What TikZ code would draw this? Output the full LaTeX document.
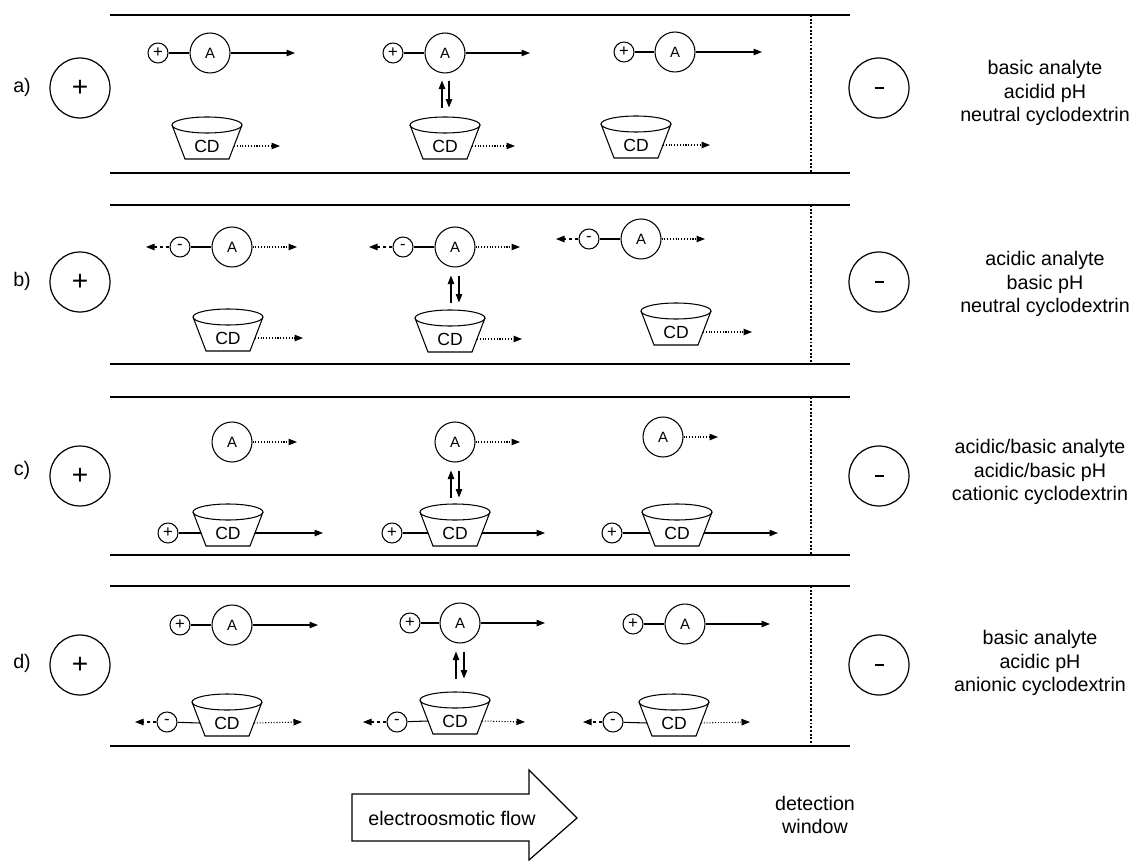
\documentclass[tikz,border=0pt]{standalone}
\usepackage{fontspec}
\setmainfont{Liberation Sans}
\usetikzlibrary{arrows.meta}

\tikzset{
  wall/.style={line width=1.3pt},
  window/.style={line width=1.1pt, densely dotted},
  electrode/.style={circle, draw, line width=0.7pt, minimum size=1.2cm, inner sep=0pt, font=\fontsize{16}{16}\selectfont},
  analyte/.style={circle, draw, line width=0.6pt, minimum size=0.8cm, inner sep=0pt, font=\fontsize{8.5}{8.5}\selectfont},
  charge/.style={circle, draw, line width=0.6pt, minimum size=0.4cm, inner sep=0pt, font=\fontsize{9.5}{9.5}\selectfont},
  bond/.style={line width=0.6pt},
  fast/.style={line width=0.6pt, -{Triangle[length=1.7mm,width=1.3mm]}},
  slow/.style={fast, densely dotted},
  back/.style={fast, dash pattern=on 2pt off 1.5pt},
  info/.style={align=center, font=\fontsize{11.2}{13.2}\selectfont},
  cup/.pic={
    \draw[bond] (-35,0) -- (-22,34) -- (22,34) -- (35,0);
    \draw[bond] (0,0) ellipse [x radius=35, y radius=8];
    \node[font=\fontsize{10}{10}\selectfont] (-cd) at (0,21) {CD};
    \coordinate (-l) at (-27,21);
    \coordinate (-r) at (27,21);
  }
}
\newcommand{\anionsign}{\raisebox{-1.2pt}{-}}
\newcommand{\cathodesign}{\rule{0.18cm}{0.05cm}}

\begin{document}
\begin{tikzpicture}[x=0.02cm, y=-0.02cm]
\useasboundingbox (0,0) rectangle (1132,861);

% a) basic analyte, neutral CD
\draw[wall] (110,15) -- (850,15);
\draw[wall] (110,173) -- (850,173);
\draw[window] (811,15) -- (811,173);
\node[info] (la) at (22,87) {a)};
\node[electrode] (plusa) at (80,88) {+};
\node[electrode] (minusa) at (879,88) {\cathodesign};
\node[info] (txta) at (1045,93) {basic analyte\\acidid pH\\neutral cyclodextrin};
\node[charge] (qa1) at (158,53) {+};
\node[analyte] (aa1) at (210,53) {A};
\coordinate (ea1) at (295,53);
\draw[bond] (qa1) -- (aa1);
\draw[fast] (aa1) -- (ea1);
\node[charge] (qa2) at (393,53) {+};
\node[analyte] (aa2) at (445,53) {A};
\coordinate (ea2) at (530,53);
\draw[bond] (qa2) -- (aa2);
\draw[fast] (aa2) -- (ea2);
\node[charge] (qa3) at (624,52) {+};
\node[analyte] (aa3) at (675,52) {A};
\coordinate (ea3) at (762,52);
\draw[bond] (qa3) -- (aa3);
\draw[fast] (aa3) -- (ea3);
\draw[fast] ([shift={(-3,34)}]aa2.south) -- ([shift={(-3,7)}]aa2.south);
\draw[fast] ([shift={(4,7)}]aa2.south) -- ([shift={(4,34)}]aa2.south);
\pic (ca1) at (207,125) {cup};
\pic (ca2) at (445,125) {cup};
\pic (ca3) at (636,124) {cup};
\coordinate (fa1) at (280,146);
\coordinate (fa2) at (515,146);
\coordinate (fa3) at (710,145);
\draw[slow] (ca1-r) -- (fa1);
\draw[slow] (ca2-r) -- (fa2);
\draw[slow] (ca3-r) -- (fa3);

% b) acidic analyte, neutral CD
\draw[wall] (110,205) -- (850,205);
\draw[wall] (110,364) -- (850,364);
\draw[window] (811,205) -- (811,364);
\node[info] (lb) at (22,281) {b)};
\node[electrode] (plusb) at (80,282) {+};
\node[electrode] (minusb) at (879,282) {\cathodesign};
\node[info] (txtb) at (1045,284) {acidic analyte\\basic pH\\neutral cyclodextrin};
\node[charge] (qb1) at (180,247) {\anionsign};
\node[analyte] (ab1) at (232,247) {A};
\coordinate (eb1) at (297,247);
\coordinate (bb1) at (146,247);
\draw[bond] (qb1) -- (ab1);
\draw[slow] (ab1) -- (eb1);
\draw[back] (qb1) -- (bb1);
\node[charge] (qb2) at (403,247) {\anionsign};
\node[analyte] (ab2) at (455,247) {A};
\coordinate (eb2) at (520,247);
\coordinate (bb2) at (369,247);
\draw[bond] (qb2) -- (ab2);
\draw[slow] (ab2) -- (eb2);
\draw[back] (qb2) -- (bb2);
\node[charge] (qb3) at (589,239) {\anionsign};
\node[analyte] (ab3) at (641,239) {A};
\coordinate (eb3) at (705,239);
\coordinate (bb3) at (556,239);
\draw[bond] (qb3) -- (ab3);
\draw[slow] (ab3) -- (eb3);
\draw[back] (qb3) -- (bb3);
\draw[fast] ([shift={(-4,35)}]ab2.south) -- ([shift={(-4,8)}]ab2.south);
\draw[fast] ([shift={(4,8)}]ab2.south) -- ([shift={(4,35)}]ab2.south);
\pic (cb1) at (228,317) {cup};
\pic (cb2) at (450,318) {cup};
\pic (cb3) at (676,311) {cup};
\coordinate (fb1) at (303,338);
\coordinate (fb2) at (522,339);
\coordinate (fb3) at (752,332);
\draw[slow] (cb1-r) -- (fb1);
\draw[slow] (cb2-r) -- (fb2);
\draw[slow] (cb3-r) -- (fb3);

% c) cationic CD
\draw[wall] (110,397) -- (850,397);
\draw[wall] (110,555) -- (850,555);
\draw[window] (811,397) -- (811,555);
\node[info] (lc) at (22,470) {c)};
\node[electrode] (plusc) at (80,476) {+};
\node[electrode] (minusc) at (879,476) {\cathodesign};
\node[info] (txtc) at (1040,472) {acidic/basic analyte\\acidic/basic pH\\cationic cyclodextrin};
\node[analyte] (ac1) at (232,442) {A};
\coordinate (ec1) at (297,442);
\draw[slow] (ac1) -- (ec1);
\node[analyte] (ac2) at (455,442) {A};
\coordinate (ec2) at (520,442);
\draw[slow] (ac2) -- (ec2);
\node[analyte] (ac3) at (663,437) {A};
\coordinate (ec3) at (718,437);
\draw[slow] (ac3) -- (ec3);
\pic (cc1) at (228,512) {cup};
\pic (cc2) at (455,512) {cup};
\pic (cc3) at (677,512) {cup};
\node[charge] (qc1) at (168,533) {+};
\node[charge] (qc2) at (392,533) {+};
\node[charge] (qc3) at (612,533) {+};
\draw[bond] (qc1) -- (cc1-l);
\draw[bond] (qc2) -- (cc2-l);
\draw[bond] (qc3) -- (cc3-l);
\coordinate (fc1) at (323,533);
\coordinate (fc2) at (545,533);
\coordinate (fc3) at (778,533);
\draw[fast] (cc1-r) -- (fc1);
\draw[fast] (cc2-r) -- (fc2);
\draw[fast] (cc3-r) -- (fc3);
\draw[fast] ([shift={(-4,35)}]ac2.south) -- ([shift={(-4,8)}]ac2.south);
\draw[fast] ([shift={(4,8)}]ac2.south) -- ([shift={(4,35)}]ac2.south);

% d) anionic CD
\draw[wall] (110,586) -- (850,586);
\draw[wall] (110,746) -- (850,746);
\draw[window] (811,586) -- (811,746);
\node[info] (ld) at (22,663) {d)};
\node[electrode] (plusd) at (80,665) {+};
\node[electrode] (minusd) at (879,665) {\cathodesign};
\node[info] (txtd) at (1040,663) {basic analyte\\acidic pH\\anionic cyclodextrin};
\node[charge] (qd1) at (180,625) {+};
\node[analyte] (ad1) at (232,625) {A};
\coordinate (ed1) at (318,625);
\draw[bond] (qd1) -- (ad1);
\draw[fast] (ad1) -- (ed1);
\node[charge] (qd2) at (410,623) {+};
\node[analyte] (ad2) at (460,623) {A};
\coordinate (ed2) at (545,623);
\draw[bond] (qd2) -- (ad2);
\draw[fast] (ad2) -- (ed2);
\node[charge] (qd3) at (633,624) {+};
\node[analyte] (ad3) at (685,624) {A};
\coordinate (ed3) at (770,624);
\draw[bond] (qd3) -- (ad3);
\draw[fast] (ad3) -- (ed3);
\draw[fast] ([shift={(-4,35)}]ad2.south) -- ([shift={(-4,8)}]ad2.south);
\draw[fast] ([shift={(4,8)}]ad2.south) -- ([shift={(4,35)}]ad2.south);
\pic (cd1) at (227,702) {cup};
\pic (cd2) at (455,700) {cup};
\pic (cd3) at (674,702) {cup};
\node[charge] (md1) at (167,722) {\anionsign};
\node[charge] (md2) at (397,722) {\anionsign};
\node[charge] (md3) at (613,722) {\anionsign};
\draw[bond] (md1) -- (cd1-l);
\draw[bond] (md2) -- (cd2-l);
\draw[bond] (md3) -- (cd3-l);
\coordinate (bd1) at (135,722);
\coordinate (bd2) at (363,722);
\coordinate (bd3) at (583,722);
\draw[back] (md1) -- (bd1);
\draw[back] (md2) -- (bd2);
\draw[back] (md3) -- (bd3);
\coordinate (fd1) at (302,722);
\coordinate (fd2) at (525,722);
\coordinate (fd3) at (750,722);
\draw[slow] (cd1-r) -- (fd1);
\draw[slow] (cd2-r) -- (fd2);
\draw[slow] (cd3-r) -- (fd3);

% flow arrow and window label
\draw[line width=0.7pt] (352,794) -- (529,794) -- (529,770) -- (577,818) -- (529,860) -- (529,841) -- (352,841) -- cycle;
\node[info] (eof) at (452,818) {electroosmotic flow};
\node[info] (det) at (815,815) {detection\\window};
\end{tikzpicture}
\end{document}
